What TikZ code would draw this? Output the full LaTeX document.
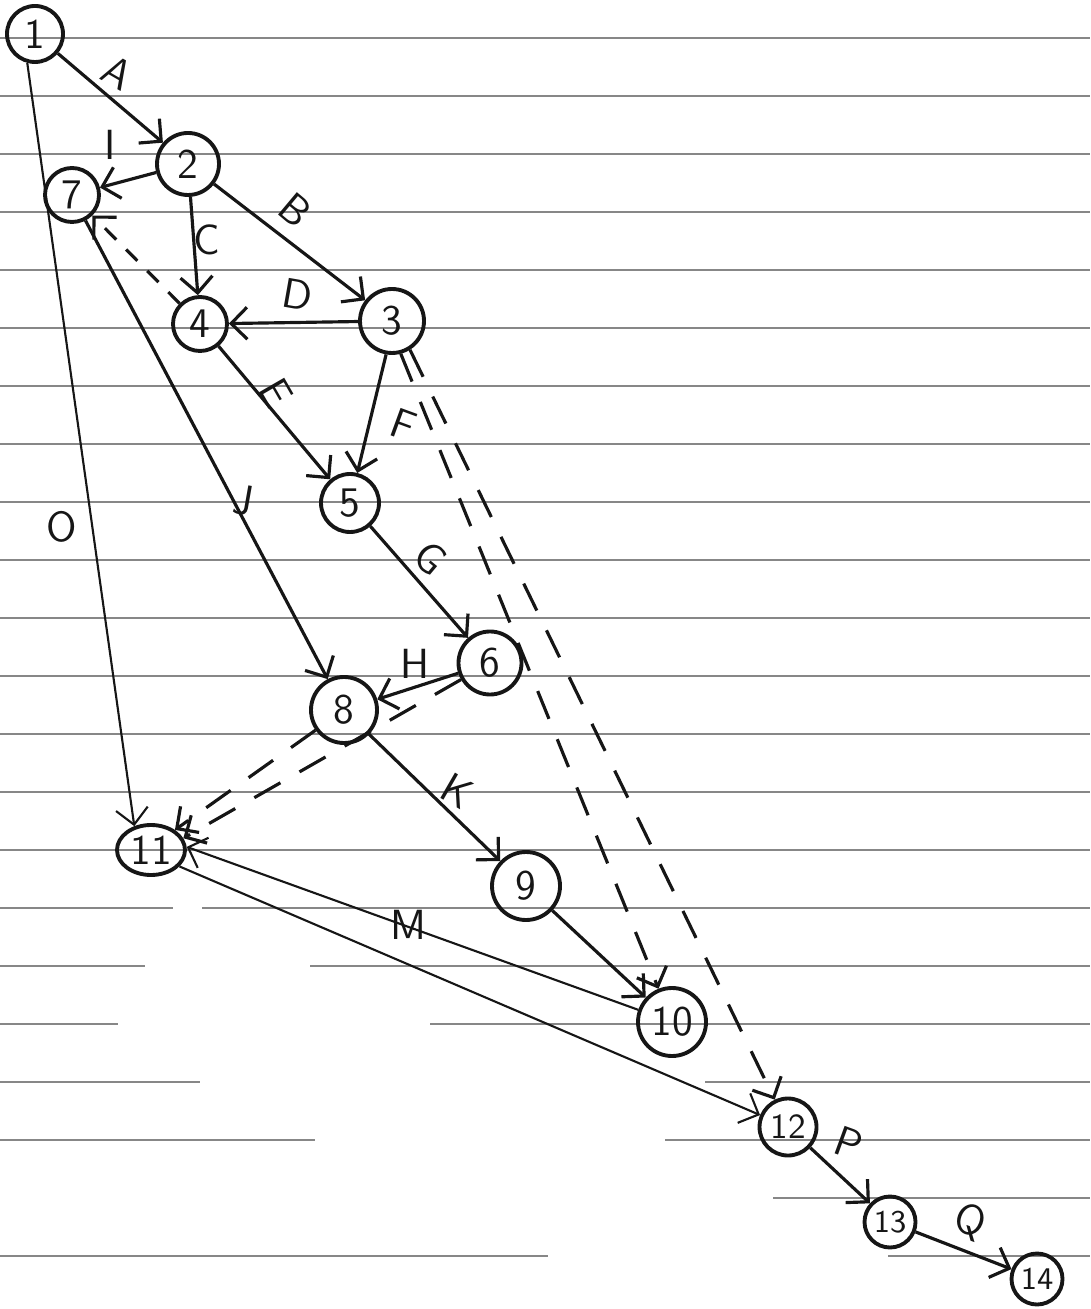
\documentclass[tikz,border=0pt]{standalone}
\usetikzlibrary{arrows.meta,shapes.geometric}
\definecolor{ink}{RGB}{22,22,22}
\definecolor{ruling}{RGB}{135,135,135}

\begin{document}
\begin{tikzpicture}[x=1cm, y=-1cm,
  font=\sffamily\large,
  >={Straight Barb[length=1.6mm,width=3.2mm]},
  v/.style={circle, draw=ink, line width=1.1pt, inner sep=0pt,
            minimum size=#1, text=ink},
  v/.default=5.6mm,
  e/.style={draw=ink, line width=0.9pt, ->},
  e thin/.style={e, line width=0.6pt},
  dsh/.style={e, dash pattern=on 3mm off 2.2mm},
  dsh short/.style={e, dash pattern=on 1.6mm off 1.4mm},
  lbl/.style={text=ink},
  ruled/.style={draw=ruling, line width=0.6pt},
]
\useasboundingbox (0,0) rectangle (10.9,13.09);

% ============ ruled paper ============
\foreach \k in {0,...,14}
  \draw[ruled] (0,{0.38+0.58*\k}) -- (10.9,{0.38+0.58*\k});
% the lower rulings are broken on the left
\foreach \y/\a/\b in {9.08/0/1.73, 9.08/2.02/10.9,
                      9.66/0/1.45, 9.66/3.1/10.9,
                      10.24/0/1.18, 10.24/4.3/10.9,
                      10.82/0/2.0, 10.82/7.05/10.9,
                      11.40/0/3.15, 11.40/6.65/10.9,
                      11.98/7.73/10.9,
                      12.56/0/5.48, 12.56/8.88/10.9}
  \draw[ruled] (\a,\y) -- (\b,\y);

% ============ events ============
\node[v=5.6mm] (n1)  at (0.35,0.34)  {1};
\node[v=6.2mm] (n2)  at (1.88,1.64)  {2};
\node[v=5.4mm] (n7)  at (0.72,1.95)  {7};
\node[v=5.4mm] (n4)  at (2.00,3.24)  {4};
\node[v=6.4mm] (n3)  at (3.92,3.21)  {3};
\node[v=5.8mm] (n5)  at (3.50,5.03)  {5};
\node[v=6.3mm] (n6)  at (4.90,6.63)  {6};
\node[v=6.6mm] (n8)  at (3.44,7.10)  {8};
\node[v, ellipse, minimum width=6.8mm, minimum height=5mm]
               (n11) at (1.51,8.50)  {11};
\node[v=6.8mm] (n9)  at (5.26,8.86)  {9};
\node[v=6.8mm] (n10) at (6.72,10.22) {10};
\node[v=5.7mm, font=\sffamily] (n12) at (7.88,11.27) {12};
\node[v=5.1mm, font=\sffamily\small] (n13) at (8.90,12.22) {13};
\node[v=5.1mm, font=\sffamily\small] (n14) at (10.37,12.79) {14};

% ============ activities ============
\draw[e] (n1) -- (n2);
\draw[e] (n2) -- (n7);
\draw[e] (n2) -- (n4);
\draw[e] (n2) -- (n3);
\draw[e] (n3) -- (n4);
\draw[e] (n4) -- (n5);
\draw[e] (n3.-100) -- (n5);
\draw[e] (n5) -- (n6);
\draw[e] (n6) -- (n8);
\draw[e] (n7) -- (n8);
\draw[e] (n8) -- (n9);
\draw[e] (n9) -- (n10);
\draw[e thin] (n10) -- (n11.5);
\draw[e thin] (n1.-105) -- (n11.125);
\draw[e thin] (n11.-30) -- (n12);
\draw[e] (n12) -- (n13);
\draw[e] (n13) -- (n14);
% dummies
\draw[dsh short] (n4) -- (n7);
\draw[dsh] (n8) -- (n11.40);
\draw[dsh] (n6) -- (n11.20);
\draw[dsh] (n3.-75) -- (n10);
\draw[dsh] (n3.-58) -- (n12);

% ============ labels ============
\node[lbl, rotate=-30] (lA) at (1.18,0.73)  {A};
\node[lbl]             (lI) at (1.10,1.45)  {I};
\node[lbl, rotate=-40] (lB) at (2.95,2.10)  {B};
\node[lbl]             (lC) at (2.07,2.40)  {C};
\node[lbl, rotate=-10] (lD) at (2.98,2.95)  {D};
\node[lbl, rotate=-60] (lE) at (2.76,3.93)  {E};
\node[lbl, rotate=-20] (lF) at (4.03,4.25)  {F};
\node[lbl, rotate=-10] (lJ) at (2.43,5.00)  {J};
\node[lbl, rotate=-40] (lG) at (4.30,5.58)  {G};
\node[lbl]             (lH) at (4.15,6.64)  {H};
\node[lbl, rotate=-30] (lK) at (4.57,7.91)  {K};
\node[lbl]             (lM) at (4.08,9.25)  {M};
\node[lbl]             (lO) at (0.62,5.27)  {O};
\node[lbl, rotate=-20] (lP) at (8.49,11.43) {P};
\node[lbl, rotate=-20] (lQ) at (9.70,12.22) {Q};

\end{tikzpicture}
\end{document}
